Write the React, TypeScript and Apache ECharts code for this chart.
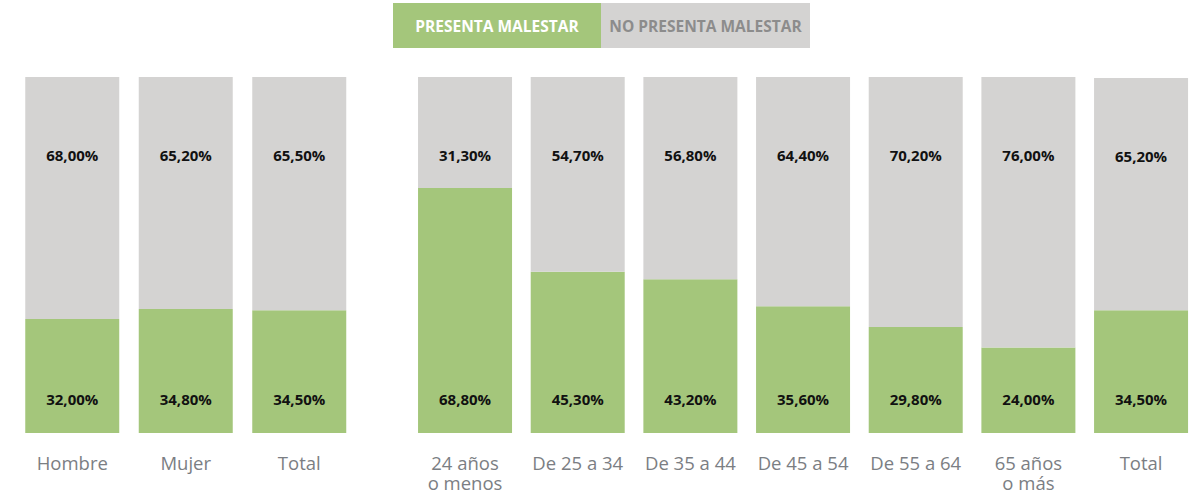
import React, { useEffect, useRef } from "react";
import * as echarts from "echarts";

const sexCategories = ["Hombre", "Mujer", "Total"];
const sexPresenta = [32.0, 34.8, 34.5];
const sexNoPresenta = [68.0, 65.2, 65.5];

const ageCategories = [
  "24 años\no menos",
  "De 25 a 34",
  "De 35 a 44",
  "De 45 a 54",
  "De 55 a 64",
  "65 años\no más",
  "Total",
];
const agePresenta = [68.8, 45.3, 43.2, 35.6, 29.8, 24.0, 34.5];
const ageNoPresenta = [31.3, 54.7, 56.8, 64.4, 70.2, 76.0, 65.2];

const legendNames = ["PRESENTA MALESTAR", "NO PRESENTA MALESTAR"];

const GREEN = "#a4c67b";
const GRAY = "#d4d3d2";
const FONT = "'Open Sans', Lato, sans-serif";

const fmt = (p: any) => Number(p.value).toFixed(2).replace(".", ",") + "%";

export default function App() {
  const ref = useRef<HTMLDivElement>(null);
  useEffect(() => {
    if (!ref.current) return;
    const chart = echarts.init(ref.current, undefined, { renderer: "svg" });
    const xAxisBase = {
      type: "category",
      axisLine: { show: false },
      axisTick: { show: false },
      splitLine: { show: false },
      axisLabel: {
        color: "#7b7e83",
        fontSize: 18.5,
        fontFamily: FONT,
        margin: 19,
        lineHeight: 20.5,
        interval: 0,
        verticalAlign: "top",
      },
    };
    const yAxisBase = { type: "value", min: 0, max: 100, show: false };
    const greenLabel = {
      show: true,
      position: "insideBottom",
      distance: 27,
      color: "#111",
      fontSize: 15,
      fontWeight: "bold",
      fontFamily: FONT,
      formatter: fmt,
    };
    const grayLabel = { ...greenLabel, position: "insideTop", distance: 70 };
    const mk = (name: string, data: number[], idx: number, stack: string, color: string, label: any) => ({
      name,
      type: "bar",
      xAxisIndex: idx,
      yAxisIndex: idx,
      stack,
      data,
      barWidth: 94,
      itemStyle: { color },
      label,
      emphasis: { disabled: true },
    });
    chart.setOption({
      animation: false,
      grid: [
        { left: 15.5, width: 340.5, top: 77, bottom: 60 },
        { left: 408.7, width: 788.7, top: 77, bottom: 60 },
      ],
      xAxis: [
        { ...xAxisBase, gridIndex: 0, data: sexCategories },
        { ...xAxisBase, gridIndex: 1, data: ageCategories },
      ],
      yAxis: [
        { ...yAxisBase, gridIndex: 0 },
        { ...yAxisBase, gridIndex: 1 },
      ],
      series: [
        mk(legendNames[0], sexPresenta, 0, "s", GREEN, greenLabel),
        mk(legendNames[1], sexNoPresenta, 0, "s", GRAY, grayLabel),
        mk(legendNames[0], agePresenta, 1, "a", GREEN, greenLabel),
        mk(legendNames[1], ageNoPresenta, 1, "a", GRAY, grayLabel),
      ],
      graphic: [
        { type: "rect", left: 393, top: 3, shape: { width: 208, height: 45 }, style: { fill: GREEN } },
        { type: "rect", left: 601, top: 3, shape: { width: 209, height: 45 }, style: { fill: GRAY } },
        {
          type: "text",
          x: 497,
          y: 25.5,
          style: {
            text: legendNames[0],
            fill: "#ffffff",
            fontSize: 15.5,
            fontWeight: "bold",
            fontFamily: FONT,
            align: "center",
            verticalAlign: "middle",
          },
        },
        {
          type: "text",
          x: 705.5,
          y: 25.5,
          style: {
            text: legendNames[1],
            fill: "#8c8c8c",
            fontSize: 15.5,
            fontWeight: "bold",
            fontFamily: FONT,
            align: "center",
            verticalAlign: "middle",
          },
        },
      ],
    });
    return () => chart.dispose();
  }, []);
  return (
    <div
      ref={ref}
      style={{ position: "fixed", left: 0, top: 0, width: 1201, height: 493, background: "#fff" }}
    />
  );
}
